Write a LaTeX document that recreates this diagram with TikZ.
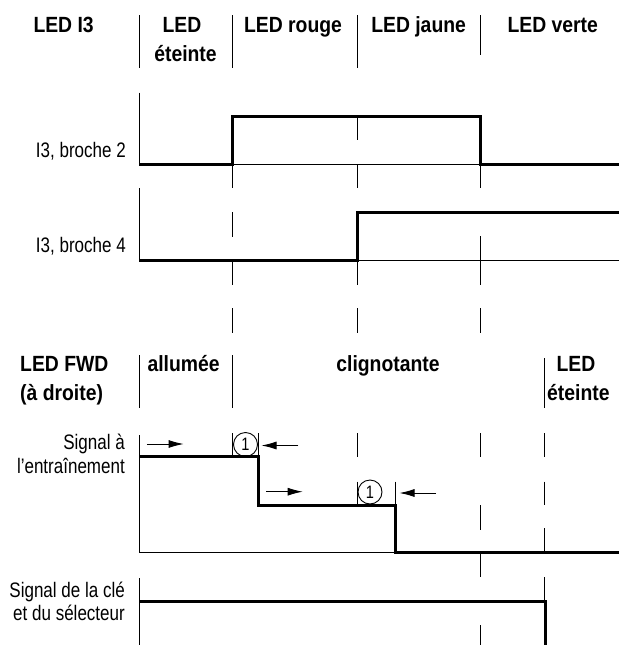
\documentclass[tikz,border=0pt]{standalone}
\usepackage{fontspec}
\setmainfont{Liberation Sans}
\newfontfamily\hdrfont[FakeStretch=0.88]{Liberation Sans}
\newfontfamily\lblfont[FakeStretch=0.81]{Liberation Sans}
\usetikzlibrary{arrows.meta}
\begin{document}
\begin{tikzpicture}[x=1pt,y=-1pt,
  guide/.style={line width=0.9pt},
  sig/.style={line width=3pt,line join=miter},
  hdr/.style={inner sep=0pt,font=\hdrfont\bfseries\fontsize{22}{26}\selectfont},
  lbl/.style={inner sep=0pt,anchor=base east,font=\lblfont\fontsize{21}{24}\selectfont},
  num/.style={draw,circle,line width=0.9pt,minimum size=24pt,inner sep=0pt,font=\lblfont\fontsize{18}{18}\selectfont},
  arr/.style={line width=0.9pt,-{Latex[length=15pt,width=8pt]}}]
\useasboundingbox (0,0) rectangle (619,645);
% header row 1
\node[hdr,anchor=base west] (h1) at (33.3,32) {LED I3};
\node[hdr,anchor=base] (h2a) at (182,32) {LED};
\node[hdr,anchor=base] (h2b) at (185.5,61) {éteinte};
\node[hdr,anchor=base] (h3) at (293,32) {LED rouge};
\node[hdr,anchor=base] (h4) at (418.6,32) {LED jaune};
\node[hdr,anchor=base] (h5) at (552.7,32) {LED verte};
% header row 2
\node[hdr,anchor=base west] (f1a) at (20,371.5) {LED FWD};
\node[hdr,anchor=base west] (f1b) at (20,400) {(à droite)};
\node[hdr,anchor=base] (f2) at (183.6,371.5) {allumée};
\node[hdr,anchor=base] (f3) at (388,371.5) {clignotante};
\node[hdr,anchor=base] (f4a) at (576,371.5) {LED};
\node[hdr,anchor=base west] (f4b) at (547,400) {éteinte};
% labels
\node[lbl] (l1) at (126,157) {I3, broche 2};
\node[lbl] (l2) at (126,252) {I3, broche 4};
\node[lbl] (l3a) at (125,449) {Signal à};
\node[lbl] (l3b) at (125,473) {l’entraînement};
\node[lbl] (l4a) at (125,597) {Signal de la clé};
\node[lbl] (l4b) at (125,620) {et du sélecteur};
% guide segments
\foreach \x/\a/\b in {
  139.4/15/68, 232.5/15/68, 357.7/15/68, 480.9/15/55,
  139.4/92.7/164, 357.7/117.7/140,
  232.5/164/188, 357.7/164/188, 480.9/164/188,
  139.4/188/260, 232.5/212/237, 480.9/236/260,
  232.5/260/285, 357.7/260/285, 480.9/260/285,
  232.5/308/333, 357.7/308/333, 480.9/308/333,
  139.4/355/408, 232.5/355/408, 544.8/358/408,
  139.4/435/552.7,
  232.5/433/456.7, 258.5/433/456.7, 357.7/433/457, 480.9/433/457, 544.8/433/457,
  357.7/481.7/505, 395.5/481.7/505, 544.8/481.7/505,
  480.9/505/530, 544.8/528/553,
  480.9/553/577, 544.8/577/601.7,
  139.4/578/645, 480.9/625/645}
  \draw[guide] (\x,\a) -- (\x,\b);
% baselines
\draw[guide] (139.4,164) -- (619,164);
\draw[guide] (139.4,260) -- (619,260);
\draw[guide] (139.4,552.7) -- (619,552.7);
% signals
\draw[sig] (139.4,164) -- (232.5,164) -- (232.5,116) -- (480.9,116) -- (480.9,164) -- (619,164);
\draw[sig] (139.4,260) -- (357.7,260) -- (357.7,212.3) -- (619,212.3);
\draw[sig] (139.4,456.7) -- (258.5,456.7) -- (258.5,505) -- (395.5,505) -- (395.5,552.7) -- (619,552.7);
\draw[sig] (139.4,601.7) -- (545.5,601.7) -- (545.5,645);
% circled numbers
\node[num] (c1) at (245.5,444.5) {1};
\node[num] (c2) at (370,492) {1};
% arrows
\coordinate (a1s) at (146.9,444); \coordinate (a1e) at (183.6,444);
\coordinate (a2s) at (298.3,445.5); \coordinate (a2e) at (261.5,445.5);
\coordinate (a3s) at (266,491.7); \coordinate (a3e) at (302.7,491.7);
\coordinate (a4s) at (436,493); \coordinate (a4e) at (399.5,493);
\draw[arr] (a1s) -- (a1e);
\draw[arr] (a2s) -- (a2e);
\draw[arr] (a3s) -- (a3e);
\draw[arr] (a4s) -- (a4e);
\end{tikzpicture}
\end{document}
